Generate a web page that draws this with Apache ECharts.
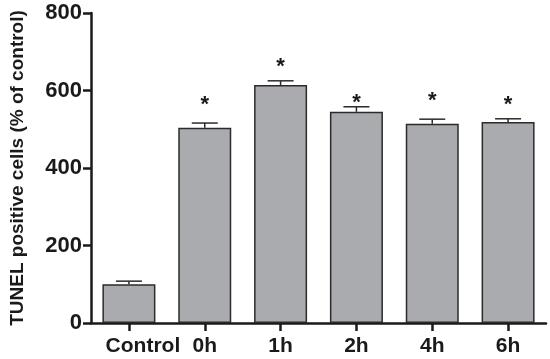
<!DOCTYPE html>
<html>
<head>
<meta charset="utf-8">
<script src="https://cdn.jsdelivr.net/npm/echarts@6/dist/echarts.min.js"></script>
<style>
  html, body { margin: 0; padding: 0; background: #fff; }
  #chart { width: 550px; height: 359px; }
</style>
</head>
<body>
<div id="chart"></div>
<script>
// data
var categories = ['Control', '0h', '1h', '2h', '4h', '6h']
var means = [100, 504, 614, 545, 514, 519]
var errors = [8, 12, 11, 13, 12, 8]
// height (in axis units) where the significance star sits, null = no star
var starLevels = [null, 575, 673, 581, 586, 575]
var yTicks = [0, 200, 400, 600, 800]

var fontFamily = '"Liberation Sans", Arial, sans-serif'
var textColor = '#1a1a1a'
var lineColor = '#1a1a1a'

var chart = echarts.init(document.getElementById('chart'))

var errData = categories.map(function (c, i) {
  return [i, means[i], means[i] + errors[i], starLevels[i]]
})

var option = {
  animation: false,
  grid: { left: 80, right: 4, top: 13, bottom: 36 },
  xAxis: {
    type: 'category',
    data: categories.map(function (c) {
      // the Control label sits a bit to the right of its tick
      return c === 'Control' ? { value: c, textStyle: { padding: [0, 0, 0, 28] } } : c
    }),
    axisLine: { lineStyle: { color: lineColor, width: 2.5 } },
    axisTick: { show: true, alignWithLabel: true, interval: 0, length: 8, lineStyle: { color: lineColor, width: 2.5 } },
    axisLabel: {
      interval: 0, hideOverlap: false,
      color: textColor, fontFamily: fontFamily, fontWeight: 'bold', fontSize: 21, margin: 13
    }
  },
  yAxis: {
    type: 'value',
    min: yTicks[0],
    max: yTicks[yTicks.length - 1],
    interval: 200,
    name: 'TUNEL positive cells (% of control)',
    nameLocation: 'middle',
    nameGap: 64,
    nameTextStyle: { color: textColor, fontFamily: fontFamily, fontWeight: 'bold', fontSize: 19 },
    axisLine: { show: true, lineStyle: { color: lineColor, width: 2.5 } },
    axisTick: { show: true, length: 8, lineStyle: { color: lineColor, width: 2.5 } },
    axisLabel: {
      color: textColor, fontFamily: fontFamily, fontWeight: 'bold', fontSize: 22, margin: 9
    },
    splitLine: { show: false }
  },
  series: [
    {
      type: 'bar',
      data: means,
      barWidth: 53,
      itemStyle: { color: '#aaabaf', borderColor: '#2b2b2b', borderWidth: 1.5 }
    },
    {
      // error bars (upper whisker) + significance stars
      type: 'custom',
      data: errData,
      z: 3,
      renderItem: function (params, api) {
        var base = api.coord([api.value(0), api.value(1)])
        var top = api.coord([api.value(0), api.value(2)])
        var x = base[0]
        var half = 13
        var children = [
          { type: 'line', shape: { x1: x, y1: base[1], x2: x, y2: top[1] },
            style: { stroke: '#2b2b2b', lineWidth: 1.5 } },
          { type: 'line', shape: { x1: x - half, y1: top[1], x2: x + half, y2: top[1] },
            style: { stroke: '#2b2b2b', lineWidth: 1.5 } }
        ]
        var s = api.value(3)
        if (s != null && !isNaN(s)) {
          var sp = api.coord([api.value(0), s])
          children.push({
            type: 'text',
            style: {
              text: '*', x: x, y: sp[1] + 5,
              align: 'center', verticalAlign: 'middle',
              font: 'bold 22px ' + fontFamily, fill: textColor
            }
          })
        }
        return { type: 'group', children: children }
      }
    }
  ]
}

chart.setOption(option)
</script>
</body>
</html>
